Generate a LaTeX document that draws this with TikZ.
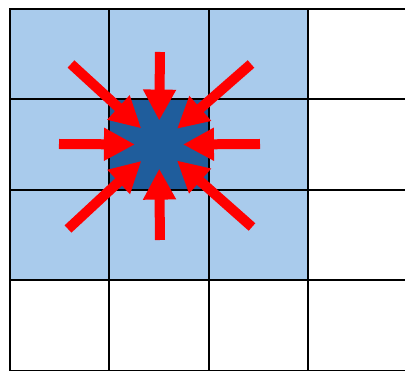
\documentclass[tikz,border=0pt]{standalone}
\usepackage{tikz}
\usetikzlibrary{arrows.meta, positioning}

\definecolor{lightcell}{RGB}{169,203,236}
\definecolor{darkcell}{RGB}{31,93,156}

\begin{document}
\begin{tikzpicture}[x=1pt, y=-1pt,
    cell/.style = {outer sep=0pt, inner sep=0pt,
                   minimum width=99.3pt, minimum height=90.4pt},
    nbr/.style = {cell, fill=lightcell},
    ctr/.style = {cell, fill=darkcell},
    gridline/.style = {draw=black, line width=2pt, line cap=rect},
    push/.style = {draw=red, line width=10pt, shorten >=24pt,
                   -{Triangle[width=31pt,length=31pt]}}]
            \useasboundingbox[fill=white] (0,0) rectangle (405,371);

            \node[nbr, anchor=north west] (c11) at (10,9) {};
            \node[nbr] (c12) [right=0pt of c11] {};
            \node[nbr] (c13) [right=0pt of c12] {};
            \node[cell] (c14) [right=0pt of c13] {};

            \node[nbr] (c21) [below=0pt of c11] {};
            \node[ctr] (c22) [right=0pt of c21] {};
            \node[nbr] (c23) [right=0pt of c22] {};
            \node[cell] (c24) [right=0pt of c23] {};

            \node[nbr] (c31) [below=0pt of c21] {};
            \node[nbr] (c32) [right=0pt of c31] {};
            \node[nbr] (c33) [right=0pt of c32] {};
            \node[cell] (c34) [right=0pt of c33] {};

            \node[cell] (c41) [below=0pt of c31] {};
            \node[cell] (c42) [right=0pt of c41] {};
            \node[cell] (c43) [right=0pt of c42] {};
            \node[cell] (c44) [right=0pt of c43] {};

            % grid lines
            \path[gridline] (c11.north west) -- (c41.south west);
            \path[gridline] (c12.north west) -- (c42.south west);
            \path[gridline] (c13.north west) -- (c43.south west);
            \path[gridline] (c14.north west) -- (c44.south west);
            \path[gridline] (c14.north east) -- (c44.south east);
            \path[gridline] (c11.north west) -- (c14.north east);
            \path[gridline] (c21.north west) -- (c24.north east);
            \path[gridline] (c31.north west) -- (c34.north east);
            \path[gridline] (c41.north west) -- (c44.north east);
            \path[gridline] (c41.south west) -- (c44.south east);

            % arrows pointing into the middle cell
            \coordinate (mid) at (c22.center);
            \coordinate (pN) at (160,52);
            \coordinate (pS) at (160,240);
            \coordinate (pW) at (59,144);
            \coordinate (pE) at (260,144);
            \coordinate (pNW) at (71,64);
            \coordinate (pNE) at (251,64);
            \coordinate (pSW) at (68,229);
            \coordinate (pSE) at (252,227);

            \path[push] (pN) -- (mid);
            \path[push] (pS) -- (mid);
            \path[push] (pW) -- (mid);
            \path[push] (pE) -- (mid);
            \path[push] (pNW) -- (mid);
            \path[push] (pNE) -- (mid);
            \path[push] (pSW) -- (mid);
            \path[push] (pSE) -- (mid);
        \end{tikzpicture}
\end{document}
